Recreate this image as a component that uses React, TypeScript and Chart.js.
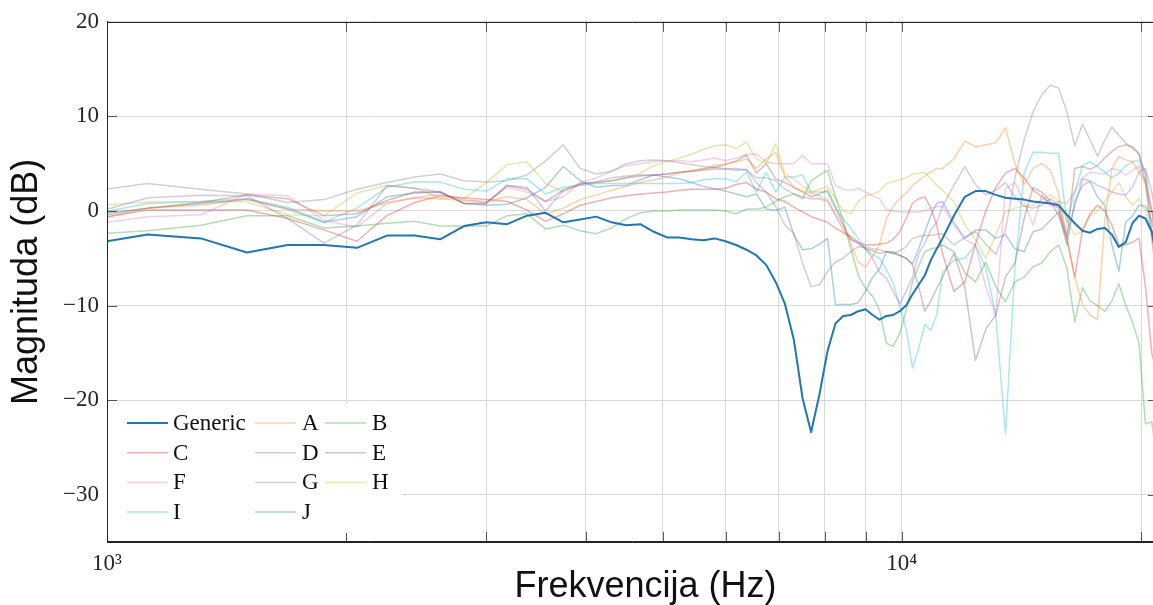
import React, { useEffect, useRef } from "react";
import { Chart, registerables } from "chart.js";

Chart.register(...registerables);

// Frequency bins (Hz)
const FREQS = [
  937.5, 1125, 1312.5, 1500, 1687.5, 1875, 2062.5, 2250, 2437.5, 2625,
  2812.5, 3000, 3187.5, 3375, 3562.5, 3750, 3937.5, 4125, 4312.5, 4500,
  4687.5, 4875, 5062.5, 5250, 5437.5, 5625, 5812.5, 6000, 6187.5, 6375,
  6562.5, 6750, 6937.5, 7125, 7312.5, 7500, 7687.5, 7875, 8062.5, 8250,
  8437.5, 8625, 8812.5, 9000, 9187.5, 9375, 9562.5, 9750, 9937.5, 10125,
  10312.5, 10500, 10687.5, 10875, 11062.5, 11250,
  11625, 12000, 12375, 12750, 13125, 13500, 13875, 14250, 14625, 15000,
  15375, 15750, 16125, 16500, 16875, 17250, 17625, 18000, 18375, 18750,
  19125, 19500, 19875, 20250, 20625, 21000,
];

const GENERIC = [
  -3.6, -2.5, -2.9, -4.4, -3.6, -3.6, -3.9, -2.6, -2.6, -3.0,
  -1.6, -1.2, -1.4, -0.5, -0.2, -1.2, -0.9, -0.6, -1.2, -1.5,
  -1.4, -2.2, -2.8, -2.8, -3.0, -3.1, -2.9, -3.2, -3.6, -4.1,
  -4.7, -5.7, -7.5, -9.8, -13.6, -19.8, -23.4, -19.4, -14.8, -11.9,
  -11.1, -11.0, -10.6, -10.4, -11.0, -11.5, -11.1, -11.0, -10.6, -10.0,
  -8.8, -7.8, -6.8, -5.2, -4.0, -2.9,
  -0.5, 1.5, 2.1, 2.1, 1.7, 1.4, 1.3, 1.2, 1.0, 0.9,
  0.8, 0.6, -0.4, -1.3, -2.1, -2.3, -1.9, -1.8, -2.5, -3.8,
  -3.3, -1.3, -0.5, -0.8, -2.2, -6.0,
];

const SERIES_A = [
  -1.2, 0.3, 0.6, 1.3, 0.2, 0.0, 0.0, 0.9, 1.4, 1.3,
  1.1, 1.0, 1.5, 1.2, -0.3, 0.3, 1.2, 1.7, 2.2, 2.6,
  3.0, 3.3, 3.6, 4.0, 4.3, 4.5, 4.8, 5.0, 5.2, 5.5,
  4.5, 5.5, 6.2, 3.6, 2.5, 2.1, 1.9, 1.6, 1.2, -0.3,
  -1.5, -3.5, -5.4, -5.9, -4.8, -3.5, -0.8, 0.5, 1.3, 1.9,
  2.7, 3.2, 3.7, 4.1, 4.5, 4.5,
  5.5, 7.4, 6.8, 7.0, 7.2, 8.8, 5.0, 2.8, 4.5, 5.0,
  4.3, 1.8, -2.9, -7.0, -9.9, -11.0, -11.5, -1.0, 4.5, 5.8,
  5.4, 5.2, 4.1, 3.0, 0.0, -4.0,
];

const SERIES_B = [
  -2.5, -2.1, -1.5, -0.5, -0.5, -1.8, -1.6, -1.3, -1.1, -1.6,
  -1.6, -1.6, -0.5, -0.3, -1.9, -1.5, -2.1, -2.4, -1.8, -0.8,
  -0.2, 0.0, 0.0, 0.1, 0.1, 0.1, 0.1, 0.0, -0.3, 0.2,
  0.2, 0.4, 1.0, 1.5, 1.8, 1.3, 3.2, 3.8, 4.3, 1.5,
  -1.0, -4.0, -6.8, -8.2, -9.0, -10.5, -14.0, -14.3, -13.0, -10.5,
  -7.5, -5.8, -4.3, -4.0, -3.9, -3.6,
  -4.3, -6.5, -7.5, -5.4, -8.0, -9.6, -7.5, -7.0, -5.9, -5.5,
  -4.3, -3.6, -6.0, -11.7, -8.1, -9.5, -10.0, -10.6, -9.5, -7.7,
  -10.0, -11.7, -14.0, -22.5, -22.3, -27.0,
];

const SERIES_C = [
  -1.0, 0.1, 0.1, 0.1, -0.8, -2.0, -3.2, -0.5, 0.9, 1.6,
  1.4, 1.2, 1.0, 0.1, -1.1, -0.3, 0.6, 1.0, 1.4, 1.6,
  1.8, 1.9, 2.0, 2.2, 2.3, 2.3, 2.3, 2.4, 2.8, 3.0,
  2.3, 2.0, 1.3, 1.0, 0.4, -0.1, -0.6, -0.9, -1.2, -1.8,
  -2.3, -2.7, -3.3, -3.6, -3.6, -3.5, -3.4, -3.0, -2.2, -0.8,
  0.8, 1.3, 1.5, 0.3, -1.5, -4.5,
  -8.5, -7.5, -3.5, 0.0, 2.5, 4.0, 4.5, 3.5, 2.2, 1.5,
  0.8, 0.3, -2.9, -7.0, -2.0, -0.3, 0.6, 0.0, -1.5, -3.6,
  -3.6, -3.3, -2.9, -8.0, -15.0, -18.0,
];

const SERIES_D = [
  -0.5, 1.4, 1.65, 1.6, -0.8, -3.4, -1.5, 2.7, 2.4, 2.0,
  0.8, 0.8, 2.7, 2.5, 0.0, 2.2, 2.8, 3.1, 3.5, 3.7,
  3.8, 3.8, 3.9, 4.1, 4.2, 4.3, 4.4, 4.4, 4.5, 4.3,
  3.5, 3.5, 3.2, 2.3, 1.8, 1.5, 1.3, 1.3, 1.0, -0.5,
  -2.0, -3.0, -3.4, -4.0, -5.0, -6.5, -7.1, -8.5, -9.8, -8.5,
  -7.0, -4.5, -3.4, -2.0, -1.2, 0.5,
  2.7, 4.7, 2.8, 1.7, 2.2, 3.0, 1.5, 0.5, 0.3, 0.6,
  1.3, 0.6, -2.5, 0.5, 3.4, 3.2, 2.7, 2.4, 2.0, 1.8,
  1.7, 2.5, 4.1, 4.5, 2.0, -2.0,
];

const SERIES_E = [
  -0.5, 0.3, 0.9, 1.7, 1.3, -0.5, -0.3, 1.1, 2.0, 2.0,
  0.8, 0.8, 2.7, 2.3, 1.0, 2.2, 2.9, 3.0, 3.2, 3.5,
  3.7, 3.8, 3.9, 4.1, 4.2, 4.4, 4.6, 4.9, 5.3, 5.9,
  4.0, 5.0, 3.4, 3.0, 2.5, 2.0, 1.5, 1.8, 2.2, 0.5,
  -1.5, -3.0, -3.4, -4.0, -4.2, -4.5, -4.3, -4.5, -4.7, -5.0,
  -5.7, -8.0, -10.6, -9.5, -8.2, -7.0,
  -4.5, -8.0, -15.8, -12.5, -11.0, -7.0, -5.5, -0.8, 2.5, 2.0,
  1.0, -0.5, -2.9, 4.5, 4.7, 4.4, 4.8, 5.6, 6.3, 6.8,
  7.0, 6.8, 6.1, 3.0, -3.0, -8.0,
];

const SERIES_F = [
  -1.5, -0.6, -0.4, 1.8, 1.6, -1.0, -1.7, 0.8, 1.4, 1.8,
  1.2, 0.9, 2.5, 2.0, 1.0, 1.5, 3.0, 3.5, 4.2, 4.8,
  5.0, 5.2, 5.3, 5.3, 5.2, 5.4, 5.6, 5.3, 5.6, 6.0,
  6.0, 5.2, 5.0, 5.0, 5.0, 5.9, 5.0, 5.0, 5.0, 2.7,
  2.3, 2.2, 2.4, 2.0, 1.6, 1.3, 0.1, 0.0, -0.1, -0.1,
  -0.1, -0.1, 0.0, 0.3, 0.5, 0.5,
  -1.5, -3.0, -3.6, -8.0, -11.0, 2.4, 3.0, 1.0, -1.5, 1.7,
  0.5, 1.0, 0.8, 2.0, 3.5, 4.1, 4.0, 3.9, 4.5, 4.3,
  3.8, 4.3, 4.8, 3.0, 0.0, -4.0,
];

const SERIES_G = [
  2.0, 2.9, 2.3, 1.8, 0.9, 1.2, 2.3, 3.0, 3.6, 3.9,
  3.2, 3.05, 3.2, 3.8, 5.3, 7.0, 4.5, 3.9, 4.2, 5.0,
  5.3, 5.4, 5.3, 5.1, 4.9, 4.7, 4.6, 4.5, 4.3, 4.4,
  3.0, 2.0, 0.5, -1.5, -2.4, -5.5, -8.0, -7.8, -6.4, -5.4,
  -5.0, -4.3, -3.8, -3.8, -4.0, -4.1, -4.3, -4.5, -4.2, -3.8,
  -2.9, -2.7, -2.6, -2.6, -2.5, -2.4,
  -3.6, -2.8, -2.2, -3.5, -4.6, -2.0, 3.5, 7.5, 10.5, 12.3,
  13.3, 13.0, 10.5, 6.9, 9.2, 7.5, 5.8, 7.5, 8.9, 8.0,
  7.2, 6.6, 6.0, 4.0, -2.0, -6.0,
];

const SERIES_H = [
  0.5, 0.95, 1.0, 0.95, -0.4, -0.5, 1.9, 2.7, 2.4, 1.4,
  1.3, 3.0, 4.9, 5.2, 2.9, 2.0, 2.8, 3.0, 3.2, 3.5,
  4.0, 4.8, 5.2, 5.6, 6.0, 6.5, 6.9, 7.0, 6.6, 7.3,
  5.5, 5.0, 7.1, 3.9, 3.4, 2.6, 2.0, 2.3, 2.6, 1.3,
  0.0, -0.3, 1.0, 1.6, 1.8, 2.1, 2.9, 3.1, 3.3, 3.5,
  3.9, 4.0, 4.1, 3.4, 2.7, 2.2,
  1.0, -1.5, -3.0, -5.0, -2.5, -0.1, 0.3, 0.5, 0.6, 1.2,
  1.7, 1.0, -1.0, -2.5, -2.2, -0.5, 0.0, 1.0, 2.0, 3.0,
  1.5, 0.6, 1.3, 0.0, -2.0, -5.0,
];

const SERIES_I = [
  -0.5, 0.8, 1.0, 1.3, 0.4, -1.2, 0.3, 2.5, 3.1, 3.05,
  2.3, 2.1, 3.4, 3.4, 1.8, 2.5, 2.7, 2.9, 2.9, 2.9,
  2.9, 2.9, 2.9, 2.9, 3.0, 3.3, 3.4, 3.4, 3.1, 4.1,
  2.0, 4.1, 2.0, 3.6, 3.6, 3.8, 2.0, 2.0, 2.0, 0.2,
  -0.8, -1.8, -2.9, -4.0, -4.6, -5.0, -6.2, -7.6, -10.0, -12.5,
  -16.6, -14.5, -12.0, -12.6, -11.0, -6.5,
  -5.2, -5.0, -3.6, -6.0, -11.0, -23.6, -6.0, 4.0, 6.2, 6.2,
  6.1, 6.1, -1.2, 2.0, 4.8, 5.2, 4.7, 4.1, 3.5, 4.0,
  4.8, 5.2, 5.4, 4.0, 0.0, -4.0,
];

const SERIES_J = [
  -0.8, 0.3, 0.8, 1.2, 0.2, -1.2, -0.6, 1.5, 1.9, 2.0,
  0.8, 0.6, 0.7, 1.4, 2.5, 4.7, 3.2, 2.5, 2.7, 2.7,
  3.3, 3.8, 3.6, 3.4, 3.0, 2.6, 2.35, 2.1, 1.8, 1.5,
  1.8, 0.2, 0.08, 0.4, -2.5, -4.1, -4.0, -3.5, -2.9, -9.9,
  -9.9, -9.9, -9.7, -8.5, -7.0, -6.1, -4.3, -4.3, -4.7, -5.0,
  -5.6, -4.0, -2.2, -0.5, 0.8, 1.0,
  -1.2, -2.9, -2.0, -2.0, -2.9, -2.5, -4.0, -4.3, -2.2, -1.9,
  -1.0, -0.1, -3.6, 1.0, 2.7, 3.1, 1.5, 0.6, -3.6, -6.4,
  -1.2, -0.5, 0.6, 0.5, -1.0, -4.0,
];

const SERIES_LABELS = ["Generic", "A", "B", "C", "D", "E", "F", "G", "H", "I", "J"];
const SERIES_COLORS = [
  "#1f77b4",
  "rgba(255,127,14,0.36)",
  "rgba(44,160,44,0.36)",
  "rgba(214,39,40,0.36)",
  "rgba(148,103,189,0.36)",
  "rgba(140,86,75,0.36)",
  "rgba(227,119,194,0.36)",
  "rgba(127,127,127,0.36)",
  "rgba(188,189,34,0.36)",
  "rgba(23,190,207,0.36)",
  "rgba(31,119,180,0.36)",
];

const X_TICKS = [1000, 2000, 3000, 4000, 5000, 6000, 7000, 8000, 9000, 10000, 20000];
const Y_TICKS = [-30, -20, -10, 0, 10, 20];

const SERIF = '"Liberation Serif", "Times New Roman", serif';
const SANS = '"Liberation Sans", Arial, sans-serif';

export default function App() {
  const ref = useRef<HTMLCanvasElement | null>(null);

  useEffect(() => {
    const canvas = ref.current;
    if (!canvas) return;
    const series = [
      GENERIC, SERIES_A, SERIES_B, SERIES_C, SERIES_D, SERIES_E,
      SERIES_F, SERIES_G, SERIES_H, SERIES_I, SERIES_J,
    ];
    const datasets = series.map((vals, i) => ({
      label: SERIES_LABELS[i],
      data: FREQS.map((f, j) => ({ x: f, y: vals[j] })),
      borderColor: SERIES_COLORS[i],
      backgroundColor: SERIES_COLORS[i],
      borderWidth: i === 0 ? 2 : 1.5,
      pointRadius: 0,
      pointHoverRadius: 0,
      tension: 0,
      fill: false,
      borderJoinStyle: "round" as const,
    }));

    const framePlugin = {
      id: "frame",
      afterDraw(chart: any) {
        const { ctx, chartArea } = chart;
        const xs = chart.scales.x;
        const ys = chart.scales.y;
        const { left, right, top, bottom } = chartArea;
        ctx.save();
        // inward tick marks
        ctx.strokeStyle = "rgba(38,38,38,0.75)";
        ctx.lineWidth = 1;
        ctx.beginPath();
        Y_TICKS.forEach((v) => {
          const y = Math.round(ys.getPixelForValue(v)) + 0.5;
          ctx.moveTo(left, y);
          ctx.lineTo(left + 10, y);
          ctx.moveTo(right, y);
          ctx.lineTo(right - 10, y);
        });
        X_TICKS.forEach((v) => {
          const x = Math.round(xs.getPixelForValue(v)) + 0.5;
          ctx.moveTo(x, bottom);
          ctx.lineTo(x, bottom - 10);
          ctx.moveTo(x, top);
          ctx.lineTo(x, top + 10);
        });
        ctx.stroke();
        // axes box
        ctx.strokeStyle = "#262626";
        ctx.beginPath();
        ctx.moveTo(Math.round(left) + 0.5, top);
        ctx.lineTo(Math.round(left) + 0.5, bottom);
        ctx.moveTo(left, Math.round(bottom) - 0.5);
        ctx.lineTo(right, Math.round(bottom) - 0.5);
        ctx.moveTo(left, Math.round(top) + 0.5);
        ctx.lineTo(right, Math.round(top) + 0.5);
        ctx.stroke();

        // legend
        ctx.fillStyle = "#ffffff";
        ctx.fillRect(left + 1, 404, 294, 129);
        const cols = [
          { lx: 127, tx: 173 },
          { lx: 255, tx: 302 },
          { lx: 325, tx: 372 },
        ];
        ctx.font = `23px ${SERIF}`;
        ctx.textBaseline = "middle";
        ctx.textAlign = "left";
        chart.data.datasets.forEach((ds: any, i: number) => {
          const c = cols[i % 3];
          const y = 423 + Math.floor(i / 3) * 29.7;
          ctx.strokeStyle = ds.borderColor;
          ctx.lineWidth = ds.borderWidth;
          ctx.beginPath();
          ctx.moveTo(c.lx, y);
          ctx.lineTo(c.lx + 41, y);
          ctx.stroke();
          ctx.fillStyle = "#111111";
          ctx.fillText(ds.label, c.tx, y + 1);
        });

        // x axis title
        ctx.font = `36px ${SANS}`;
        ctx.textAlign = "center";
        ctx.textBaseline = "alphabetic";
        ctx.fillStyle = "#111111";
        ctx.fillText("Frekvencija (Hz)", (left + right) / 2 + 13, 597);
        ctx.restore();
      },
    };

    const chart = new Chart(canvas, {
      type: "line",
      data: { datasets },
      options: {
        animation: false,
        responsive: false,
        devicePixelRatio: 1,
        layout: { padding: { top: 18, right: 0, bottom: 0, left: 0 } },
        plugins: {
          legend: { display: false },
          tooltip: { enabled: false },
        },
        events: [],
        scales: {
          x: {
            type: "logarithmic",
            min: 1000,
            max: 21000,
            afterBuildTicks: (s: any) => {
              s.ticks = X_TICKS.map((v) => ({ value: v }));
            },
            afterFit: (s: any) => {
              s.height = 63;
            },
            ticks: {
              autoSkip: false,
              maxRotation: 0,
              minRotation: 0,
              padding: 8,
              color: "#262626",
              font: { family: SERIF, size: 23 },
              callback: (v: any) => (v === 1000 ? "10³" : v === 10000 ? "10⁴" : ""),
            },
            grid: { color: "#d9d9d9", lineWidth: 1, drawTicks: false },
            border: { display: true, color: "#262626", width: 1 },
          },
          y: {
            type: "linear",
            min: -35,
            max: 20,
            afterBuildTicks: (s: any) => {
              s.ticks = Y_TICKS.map((v) => ({ value: v }));
            },
            afterFit: (s: any) => {
              s.width = 107;
            },
            ticks: {
              padding: 8,
              color: "#262626",
              font: { family: SERIF, size: 23 },
              callback: (v: any) => String(v).replace("-", "\u2212"),
            },
            grid: { color: "#d9d9d9", lineWidth: 1, drawTicks: false },
            border: { display: true, color: "#262626", width: 1 },
            title: {
              display: true,
              text: "Magnituda (dB)",
              color: "#111111",
              font: { family: SANS, size: 36, weight: "normal" },
              padding: { top: 5, bottom: 0 },
            },
          },
        },
      },
      plugins: [framePlugin],
    } as any);

    return () => chart.destroy();
  }, []);

  return (
    <div
      style={{
        position: "fixed",
        left: 0,
        top: 0,
        width: 1153,
        height: 605,
        overflow: "hidden",
        background: "#ffffff",
      }}
    >
      <canvas
        ref={ref}
        width={1158}
        height={605}
        style={{ display: "block", width: 1158, height: 605 }}
      />
    </div>
  );
}
